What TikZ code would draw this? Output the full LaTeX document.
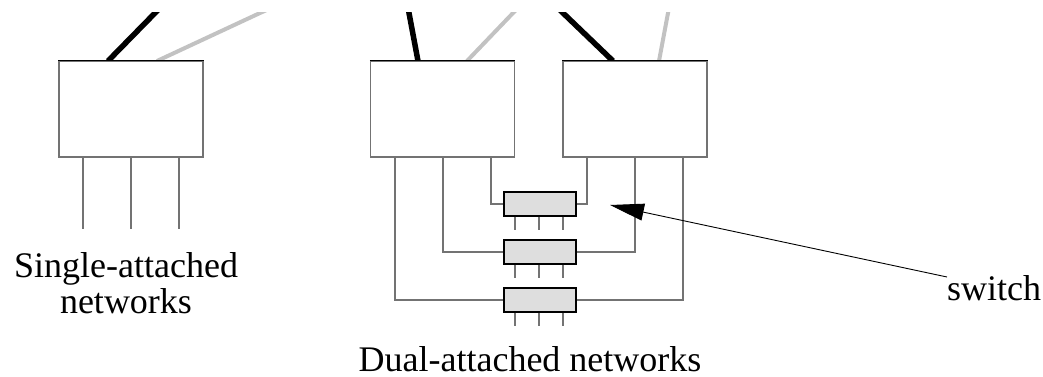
\documentclass[tikz,border=0pt]{standalone}
\usepackage{fontspec}
\setmainfont{Liberation Serif}
\usetikzlibrary{arrows.meta}
\definecolor{wiregray}{gray}{0.45}
\definecolor{linkgray}{gray}{0.76}
\definecolor{swfill}{gray}{0.87}
\tikzset{
  host/.style={draw=wiregray, line width=1.3pt, fill=white, rectangle, inner sep=0pt, minimum width=144pt, minimum height=96pt},
  topedge/.style={draw=black, line width=1.5pt},
  swbox/.style={draw=black, line width=1.4pt, fill=swfill, rectangle, inner sep=0pt, minimum width=72pt, minimum height=24pt},
  wire/.style={draw=wiregray, line width=1.3pt},
  blacklink/.style={draw=black, line width=5.5pt},
  graylink/.style={draw=linkgray, line width=4pt},
  lbl/.style={inner sep=0pt, font=\fontsize{36}{36}\selectfont},
  pointer/.style={draw=black, line width=0.9pt, -{Triangle[length=34pt,width=17pt]}}
}
\begin{document}
\begin{tikzpicture}[x=1pt,y=-1pt]
\useasboundingbox (0,0) rectangle (1043,377);
% upper links, clipped at the top
\begin{scope}
\clip (0,13) rectangle (1043,61);
\draw[blacklink] (108,61) -- ++(47,-48) -- ++(10,-10);
\draw[graylink] (157,61) -- (260,13) -- ++(20,-9);
\draw[blacklink] (418,61) -- (409,13) -- ++(-2,-10);
\draw[graylink] (467,61) -- (513,13) -- ++(10,-10);
\draw[blacklink] (613,61) -- (563,13) -- ++(-10,-10);
\draw[graylink] (659,61) -- (668,13) -- ++(2,-10);
\end{scope}
% hosts
\node[host] (A) at (131,109) {};
\node[host] (B) at (442.5,109) {};
\node[host] (C) at (635,109) {};
\foreach \n in {A,B,C}{\draw[topedge] (\n.north west) -- (\n.north east);}
% single attached wires
\foreach \x in {83,131,179}{\draw[wire] (\x,157) -- (\x,229);}
% switches
\node[swbox] (S1) at (540,204) {};
\node[swbox] (S2) at (540,252) {};
\node[swbox] (S3) at (540,300) {};
\foreach \s in {S1,S2,S3}{
  \foreach \dx in {-25,-1,23}{\draw[wire] ([xshift=\dx pt]\s.south) -- ++(0,13);}
}
% dual attached wires
\draw[wire] (491,157) |- (S1.west);
\draw[wire] (443,157) |- (S2.west);
\draw[wire] (395,157) |- (S3.west);
\draw[wire] (587,157) |- (S1.east);
\draw[wire] (635,157) |- (S2.east);
\draw[wire] (683,157) |- (S3.east);
% labels
\node[lbl, anchor=base] (sa1) at (126,277) {Single-attached};
\node[lbl, anchor=base] (sa2) at (126,313) {networks};
\node[lbl, anchor=base] (da) at (530,371) {Dual-attached networks};
\node[lbl, anchor=base west] (sw) at (947,300) {switch};
\coordinate (swtail) at (947,277);
\coordinate (tip) at (610,205);
\draw[pointer] (swtail) -- (tip);
\end{tikzpicture}
\end{document}
